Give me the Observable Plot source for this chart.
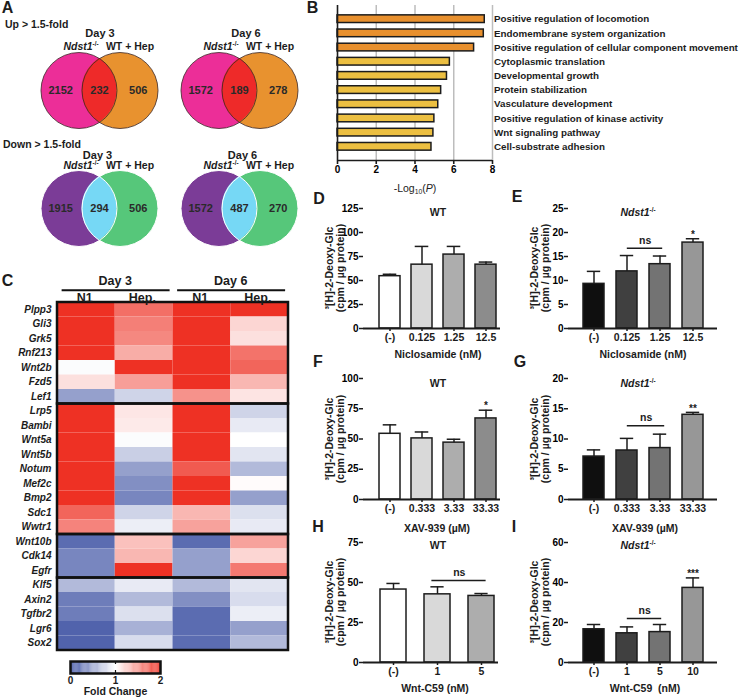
<!DOCTYPE html>
<html><head><meta charset="utf-8">
<script src="https://cdn.jsdelivr.net/npm/d3@7"></script>
<script src="https://cdn.jsdelivr.net/npm/@observablehq/plot@0.6"></script>
<style>
body{margin:0;background:#fff;}
#fig{position:relative;width:742px;height:700px;overflow:hidden;background:#fff;font-family:"Liberation Sans",Arial,Helvetica,sans-serif;color:#1c1c1c;}
.t{position:absolute;white-space:nowrap;line-height:1;font-weight:bold;}
.t sup{font-size:0.6em;vertical-align:0.55em;line-height:0;}
.t sub{font-size:0.65em;vertical-align:-0.3em;line-height:0;}
</style></head><body><div id="fig"></div>
<script>
// ---------------- DATA ----------------
// Panel A: Venn counts [Ndst1-/- only, overlap, WT + Hep only]
const upDay3 = [2152, 232, 506];
const upDay6 = [1572, 189, 278];
const downDay3 = [1915, 294, 506];
const downDay6 = [1572, 487, 270];

// Panel B: GO terms
const goTerms = ["Positive regulation of locomotion","Endomembrane system organization","Positive regulation of cellular component movement","Cytoplasmic translation","Developmental growth","Protein stabilization","Vasculature development","Positive regulation of kinase activity","Wnt signaling pathway","Cell-substrate adhesion"];
const goLogP = [7.6, 7.55, 7.05, 5.8, 5.65, 5.35, 5.2, 5.0, 4.95, 4.85];
const goCluster = [1, 1, 1, 2, 2, 2, 2, 2, 2, 2];
const goTicks = [0, 2, 4, 6, 8];

// Panel C: heatmap (fold change)
const genes = ["Plpp3","Gli3","Grk5","Rnf213","Wnt2b","Fzd5","Lef1","Lrp5","Bambi","Wnt5a","Wnt5b","Notum","Mef2c","Bmp2","Sdc1","Wwtr1","Wnt10b","Cdk14","Egfr","Klf5","Axin2","Tgfbr2","Lgr6","Sox2"];
const geneGroupSizes = [7, 9, 3, 5];
const heatDays = ["Day 3", "Day 6"];
const heatConditions = ["N1", "Hep."];
const foldN1Day3  = [2, 2, 2, 2, 0.98, 1.15, 0.45, 2, 2, 2, 2, 2, 2, 2, 1.75, 1.6, 0.15, 0.3, 0.3, 0.6, 0.25, 0.25, 0.1, 0.1];
const foldHepDay3 = [1.7, 1.62, 1.58, 1.4, 2, 1.47, 0.75, 1.12, 1.1, 0.98, 0.72, 0.45, 0.35, 0.3, 0.75, 0.9, 1.3, 1.35, 2, 0.88, 0.6, 0.82, 0.55, 0.8];
const foldN1Day6  = [2, 2, 2, 2, 2, 2, 1.53, 2, 2, 2, 2, 1.8, 2, 2, 1.35, 1.45, 0.15, 0.45, 0.45, 0.6, 0.35, 0.15, 0.15, 0.15];
const foldHepDay6 = [2, 1.2, 1.15, 1.68, 1.75, 1.35, 1.13, 0.75, 0.88, 1.0, 0.85, 0.6, 1.02, 0.45, 0.82, 0.88, 1.45, 1.2, 1.65, 0.85, 0.8, 0.9, 0.45, 0.6];
const foldTicks = [0, 1, 2];

// Panels D-I: 3H-2-deoxyglucose uptake
const niclosamideDoses = ["(-)", "0.125", "1.25", "12.5"];
const dWTMean = [54.5, 66.5, 77, 66.5];
const dWTErr  = [2, 19, 8.5, 2.7];
const eKOMean = [9.3, 11.9, 13.4, 17.9];
const eKOErr  = [2.6, 3.3, 1.7, 0.8];
const eKOStars = ["", "", "", "*"];
const eNsLevel = 16.7;

const xavDoses = ["(-)", "0.333", "3.33", "33.33"];
const fWTMean = [54.3, 50.5, 47, 67];
const fWTErr  = [7.4, 5.3, 2.8, 6.8];
const fWTStars = ["", "", "", "*"];
const gKOMean = [7.1, 8.1, 8.5, 14.0];
const gKOErr  = [1.1, 2.0, 2.3, 0.4];
const gKOStars = ["", "", "", "**"];
const gNsLevel = 12.2;

const wntWTDoses = ["(-)", "1", "5"];
const hWTMean = [45.6, 42.6, 41.6];
const hWTErr  = [3.8, 4.7, 1.5];
const hNsLevel = 51.3;
const wntKODoses = ["(-)", "1", "5", "10"];
const iKOMean = [16.6, 14.6, 15.2, 37.3];
const iKOErr  = [2.4, 3.2, 3.8, 5.0];
const iKOStars = ["", "", "", "***"];
const iNsLevel = 22;

const wtFills = ["#ffffff", "#d9d9d9", "#adadad", "#8c8c8c"];
const koFills = ["#0f0f0f", "#404040", "#737373", "#979797"];

// ---------------- HELPERS ----------------
const FONT = "'Liberation Sans', Arial, Helvetica, sans-serif";
const INK = "#1c1c1c";
const baseStyle = {fontFamily: FONT, color: INK, background: "none", overflow: "visible", fontWeight: "bold", fontSize: "10px"};
const fig = document.getElementById("fig");
function place(node, left, top) {
  node.style.position = "absolute";
  node.style.left = left + "px";
  node.style.top = top + "px";
  fig.appendChild(node);
}
function txt(html, x, y, o = {}) {
  const el = document.createElement("div");
  el.className = "t";
  el.innerHTML = html;
  el.style.left = x + "px";
  el.style.top = y + "px";
  el.style.fontSize = (o.size || 10.5) + "px";
  if (o.weight) el.style.fontWeight = o.weight;
  if (o.lh) el.style.lineHeight = o.lh + "px";
  if (o.align) el.style.textAlign = o.align;
  const tx = o.anchor === "start" ? "0" : o.anchor === "end" ? "-100%" : "-50%";
  el.style.transform = `translate(${tx},-50%)` + (o.rotate ? ` rotate(${o.rotate}deg)` : "");
  fig.appendChild(el);
  return el;
}
const noLabel = () => "";

// ---------------- PANEL A: Venn ----------------
const vennUpColors = ["#EC2E98", "#EE2A29", "#E8922F"];
const vennDownColors = ["#7B3C97", "#76D8F5", "#56C77A"];
function venn(counts, colors, outline, outlineWidth) {
  const R = 38, W = 130, H = 84, d = 0.54, half = 1 - d;
  const lens = d3.range(0, 201).map(i => {
    const x = -half + 2 * half * i / 200;
    return {x, h: Math.sqrt(Math.max(0, 1 - (Math.abs(x) + d) ** 2))};
  });
  const slots = [-1.02, 0, 1.02];
  return Plot.plot({
    width: W, height: H, margin: 0, style: baseStyle,
    x: {domain: [-W / 2 / R, W / 2 / R], axis: null},
    y: {domain: [-H / 2 / R, H / 2 / R], axis: null},
    marks: [
      Plot.dot([-d], {x: v => v, y: () => 0, r: R, fill: colors[0]}),
      Plot.dot([d], {x: v => v, y: () => 0, r: R, fill: colors[2]}),
      Plot.areaY(lens, {x: "x", y1: p => -p.h, y2: p => p.h, fill: colors[1]}),
      Plot.dot([-d, d], {x: v => v, y: () => 0, r: R, fill: "none", stroke: outline, strokeWidth: outlineWidth}),
      Plot.text(counts, {x: (c, i) => slots[i], y: () => 0, text: c => String(c), fontSize: 11, fontWeight: "bold", fill: "#2a2a2a"})
    ]
  });
}
place(venn(upDay3, vennUpColors, "#3a2626", 0.8), 34, 48);
place(venn(upDay6, vennUpColors, "#3a2626", 0.8), 173.5, 48);
place(venn(downDay3, vennDownColors, "#ffffff", 1), 34, 166);
place(venn(downDay6, vennDownColors, "#ffffff", 1), 173.5, 166);

txt("A", 7.5, 7.5, {size: 16});
txt("Up &gt; 1.5-fold", 5, 24, {anchor: "start", size: 10.5});
txt("Down &gt; 1.5-fold", 3, 144, {anchor: "start", size: 10.5});
const ndst = "<i>Ndst1</i><sup>-/-</sup>";
[[100, 246, 33, 46], [97.5, 242.5, 154.5, 165]].forEach(([x3, x6, yd, yn]) => {
  txt("Day 3", x3, yd, {size: 11});
  txt("Day 6", x6, yd, {size: 11});
  txt(ndst, 81, yn, {size: 10.5});
  txt("WT + Hep", 130, yn, {size: 10.5});
  txt(ndst, 221, yn, {size: 10.5});
  txt("WT + Hep", 270, yn, {size: 10.5});
});

// ---------------- PANEL B: GO bars ----------------
const goRows = goTerms.map((term, i) => ({term, i, p: goLogP[i], c: goCluster[i]}));
const goPad = 0.465;
place(Plot.plot({
  width: 412, height: 200, marginLeft: 7, marginRight: 250, marginTop: 5, marginBottom: 40, style: baseStyle,
  x: {domain: [0, 8]},
  y: {domain: [-0.5 - goPad, goTerms.length - 0.5 + goPad], reverse: true, axis: null},
  color: {domain: [1, 2], range: ["#E8902E", "#ECBF41"]},
  marks: [
    Plot.gridX({ticks: [2, 4, 6, 8], stroke: "#bdbdbd", strokeOpacity: 1, strokeWidth: 1.5}),
    Plot.rectX(goRows, {x1: () => 0, x2: "p", y1: r => r.i - 0.27, y2: r => r.i + 0.27, fill: "c", stroke: INK, strokeWidth: 1.5}),
    Plot.ruleX([0], {stroke: INK, strokeWidth: 1.6}),
    Plot.axisX({ticks: goTicks, tickSize: 4, tickFormat: noLabel, label: null, strokeWidth: 1.6}),
    Plot.text(goTicks, {x: v => v, frameAnchor: "bottom", text: v => String(v), dy: 12, fontSize: 10, fontWeight: "bold", fill: "#000"}),
    Plot.ruleY([goTerms.length - 0.5 + goPad], {stroke: INK, strokeWidth: 1.6}),
    Plot.text(goRows, {frameAnchor: "right", y: "i", text: "term", textAnchor: "start", dx: 1.5, fontSize: 9.8, fontWeight: "bold", fill: INK})
  ]
}), 330, 0);
txt("B", 312.5, 8, {size: 16});
txt("-Log<sub>10</sub>(<i>P</i>)", 415, 188, {size: 10.5, weight: "normal"});

// ---------------- PANEL C: heatmap ----------------
const heatColor = {type: "linear", domain: [0, 1, 2], range: ["#3E52A3", "#FFFFFF", "#EE3124"], interpolate: "rgb"};
const foldColumns = [foldN1Day3, foldHepDay3, foldN1Day6, foldHepDay6];
const cells = [];
genes.forEach((g, i) => foldColumns.forEach((vals, j) => cells.push({row: i, col: j, v: vals[i]})));
const groups = [];
geneGroupSizes.reduce((s, n) => { groups.push({y1: s, y2: s + n}); return s + n; }, 0);
const dayHeads = heatDays.map((label, k) => ({label, x: 2 * k + 1}));
const condHeads = [];
heatDays.forEach((d, k) => heatConditions.forEach((c, j) => condHeads.push({label: c, x: 2 * k + j + 0.47})));
place(Plot.plot({
  width: 295, height: 384, marginLeft: 57, marginRight: 7, marginTop: 32, marginBottom: 4, style: baseStyle,
  x: {domain: [0, 4], axis: null},
  y: {domain: [0, genes.length], reverse: true, axis: null},
  color: heatColor,
  marks: [
    Plot.rect(cells, {x1: "col", x2: c => c.col + 1, y1: "row", y2: c => c.row + 1, fill: "v"}),
    Plot.rect(groups, {x1: () => 0, x2: () => 4, y1: "y1", y2: "y2", fill: "none", stroke: "#111", strokeWidth: 2.5}),
    Plot.text(genes, {x: () => 0, y: (g, i) => i + 0.5, text: g => g, textAnchor: "end", dx: -6, fontSize: 10, fontWeight: "bold", fontStyle: "italic", fill: INK}),
    Plot.text(dayHeads, {x: "x", y: () => -1.5, text: "label", fontSize: 12.5, fontWeight: "bold", fill: INK}),
    Plot.ruleY(dayHeads, {y: () => -0.85, x1: h => h.x - 0.92, x2: h => h.x + 0.95, stroke: "#111", strokeWidth: 2}),
    Plot.text(condHeads, {x: "x", y: () => -0.33, text: "label", fontSize: 12.5, fontWeight: "bold", fill: INK})
  ]
}), 0, 270);
txt("C", 7.5, 281, {size: 16});

// colour bar
const ramp = d3.range(0, 2, 0.02);
place(Plot.plot({
  width: 112, height: 45, marginLeft: 15, marginRight: 7, marginTop: 6, marginBottom: 27, style: baseStyle,
  x: {domain: [0, 2]},
  y: {domain: [0, 1], axis: null},
  color: heatColor,
  marks: [
    Plot.rect(ramp, {x1: v => v, x2: v => v + 0.021, y1: () => 0, y2: () => 1, fill: v => v}),
    Plot.ruleX([1], {stroke: "#fff", strokeWidth: 2}),
    Plot.ruleX([1], {y1: () => 0, y2: () => 0.25, stroke: "#111", strokeWidth: 1.2}),
    Plot.ruleX([1], {y1: () => 0.75, y2: () => 1, stroke: "#111", strokeWidth: 1.2}),
    Plot.frame({stroke: "#111", strokeWidth: 2.5}),
    Plot.axisX({ticks: foldTicks, tickSize: 0, tickFormat: noLabel, label: null}),
    Plot.text(foldTicks, {x: v => v, frameAnchor: "bottom", text: v => String(v), dy: 10, fontSize: 10, fontWeight: "bold", fill: INK}),
    Plot.text(["Fold Change"], {frameAnchor: "bottom", dy: 21, fontSize: 10.5, fontWeight: "bold", fill: INK})
  ]
}), 55, 655);

// ---------------- PANELS D-I ----------------
function barPanel(c) {
  const mL = 28, mR = 6, mT = 10, mB = 22;
  const svgLeft = c.fl - mL, width = c.fr - svgLeft + mR, height = (c.fb - c.ft) + mT + mB;
  const xOpts = {type: "band", domain: c.doses, paddingInner: c.pi, paddingOuter: c.po};
  const xs = Plot.scale({x: {...xOpts, range: [mL + c.insL, width - mR - c.insR]}});
  const bw = xs.bandwidth, step = xs.step, cap = 14;
  const rows = c.doses.map((dose, i) => ({dose, mean: c.means[i], err: c.errs[i], fill: c.fills[i], star: c.stars ? c.stars[i] : ""}));
  const marks = [
    Plot.barY(rows, {x: "dose", y: "mean", fill: "fill", stroke: INK, strokeWidth: 1.5}),
    Plot.ruleX(rows, {x: "dose", y1: "mean", y2: r => r.mean + r.err, stroke: INK, strokeWidth: 1.5}),
    Plot.tickY(rows, {x: "dose", y: r => r.mean + r.err, stroke: INK, strokeWidth: 1.5, insetLeft: (bw - cap) / 2, insetRight: (bw - cap) / 2}),
    Plot.ruleY([0], {stroke: INK, strokeWidth: 1.8}),
    Plot.axisY({ticks: c.yTicks, tickSize: 4, tickFormat: noLabel, label: null, line: true, strokeWidth: 1.5}),
    Plot.text(c.yTicks, {frameAnchor: "left", y: v => v, text: v => String(v), textAnchor: "end", dx: -5, fontSize: 10, fontWeight: "bold", fill: "#000"}),
    Plot.axisX({tickSize: 3, tickFormat: noLabel, label: null, strokeWidth: 1.5}),
    Plot.text(rows, {x: "dose", frameAnchor: "bottom", text: "dose", dy: 12, fontSize: 10.5, fontWeight: "bold", fill: INK}),
    Plot.text(rows.filter(r => r.star), {x: "dose", y: r => r.mean + r.err, text: "star", dy: -4, fontSize: 10, fontWeight: "bold", fill: INK})
  ];
  if (c.ns) {
    const n = c.ns;
    marks.push(
      Plot.ruleY([n.y], {y: v => v, x1: () => c.doses[n.from], x2: () => c.doses[n.to], insetLeft: bw / 2 - n.l, insetRight: bw / 2 - n.r, stroke: INK, strokeWidth: 1.5}),
      Plot.text([n.y], {x: () => c.doses[n.from], y: v => v, text: () => "ns", dx: step * (n.to - n.from) / 2 + (n.r - n.l) / 2, dy: -8, fontSize: 10.5, fontWeight: "bold", fill: INK})
    );
  }
  place(Plot.plot({
    width, height, marginLeft: mL, marginRight: mR, marginTop: mT, marginBottom: mB, style: baseStyle,
    x: {...xOpts, insetLeft: c.insL, insetRight: c.insR},
    y: {domain: [0, c.yMax]},
    color: {type: "identity"},
    marks
  }), svgLeft, c.ft - mT);
}
const L4 = {fl: 363, fr: 500, insL: 12, insR: 0, pi: 0.35, po: 0.07};
const R4 = {fl: 568, fr: 717, insL: 12, insR: 11, pi: 0.35, po: 0.07};

barPanel({...L4, ft: 208, fb: 328, doses: niclosamideDoses, means: dWTMean, errs: dWTErr, fills: wtFills, yMax: 125, yTicks: [0, 25, 50, 75, 100, 125]});
barPanel({...R4, ft: 208, fb: 328, doses: niclosamideDoses, means: eKOMean, errs: eKOErr, fills: koFills, yMax: 25, yTicks: [0, 5, 10, 15, 20, 25], stars: eKOStars, ns: {from: 1, to: 2, y: eNsLevel, l: 0, r: 3}});
barPanel({...L4, ft: 378, fb: 499, doses: xavDoses, means: fWTMean, errs: fWTErr, fills: wtFills, yMax: 100, yTicks: [0, 25, 50, 75, 100], stars: fWTStars});
barPanel({...R4, ft: 378, fb: 499, doses: xavDoses, means: gKOMean, errs: gKOErr, fills: koFills, yMax: 20, yTicks: [0, 5, 10, 15, 20], stars: gKOStars, ns: {from: 1, to: 2, y: gNsLevel, l: 0, r: 5}});
barPanel({fl: 363, fr: 498, insL: 14, insR: 0, pi: 0.4, po: 0.056, ft: 542, fb: 662, doses: wntWTDoses, means: hWTMean, errs: hWTErr, fills: wtFills.slice(0, 3), yMax: 75, yTicks: [0, 25, 50, 75], ns: {from: 1, to: 2, y: hNsLevel, l: 6, r: 5}});
barPanel({...R4, ft: 542, fb: 662, doses: wntKODoses, means: iKOMean, errs: iKOErr, fills: koFills, yMax: 60, yTicks: [0, 20, 40, 60], stars: iKOStars, ns: {from: 1, to: 2, y: iNsLevel, l: 0, r: 2}});

// letters and labels
[["D", 319, 199], ["E", 517, 197], ["F", 318, 362], ["G", 520, 362], ["H", 318, 527], ["I", 514, 527]].forEach(([l, x, y]) => txt(l, x, y, {size: 16}));
const ylab = "³[H]-2-Deoxy-Glc<br>(cpm / µg protein)";
[268, 438.5, 602].forEach(cy => {
  txt(ylab, 334.5, cy, {size: 10.5, lh: 11, align: "center", rotate: -90});
  txt(ylab, 539.5, cy, {size: 10.5, lh: 11, align: "center", rotate: -90});
});
[212, 383, 545].forEach(y => { txt("WT", 438, y, {size: 10.5}); txt(ndst, 638, y, {size: 10.5}); });
txt("Niclosamide (nM)", 438, 354);
txt("Niclosamide (nM)", 643, 354);
txt("XAV-939 (µM)", 437, 528);
txt("XAV-939 (µM)", 645, 528);
txt("Wnt-C59 (nM)", 435, 688);
txt("Wnt-C59&nbsp;&nbsp;(nM)", 645, 688);
</script></body></html>
